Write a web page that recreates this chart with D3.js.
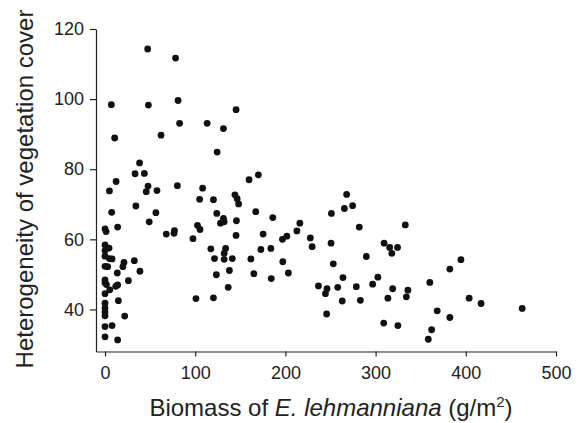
<!DOCTYPE html>
<html>
<head>
<meta charset="utf-8">
<script src="https://cdn.jsdelivr.net/npm/d3@7"></script>
<style>
  body { margin: 0; background: #fff; }
  svg { display: block; }
</style>
</head>
<body>
<div id="chart"></div>
<script>
// Biomass of E. lehmanniana (g/m2) for each plot
const biomass = [
  47.3, 78.2, 7, 48.1, 81, 145.3, 82.7, 113.2, 131.3, 62.1,
  10.7, 124.3, 38.3, 33.3, 43.6, 170, 12.3, 159.7, 80.2, 47.7,
  108.2, 4.9, 45.7, 57.6, 144, 267.9, 146.5, 104.9, 120.2, 148.1,
  34.2, 274.5, 265.4, 7.4, 167.1, 56.4, 123.9, 251, 186, 131.3,
  145.7, 49, 128, 132.1, 216, 332.9, 102.5, 281.9, 14, 0,
  1.2, 105.3, 212.7, 77, 76.5, 67.9, 175.3, 145.3, 201.6, 196.7,
  97.5, 227.6, 250.6, 309.4, 229.6, 315.6, 324.3, 0, 4.5, 117.3,
  133.7, 172.8, 183.9, 0, 132.1, 318, 0, 289.7, 4.9, 7.8,
  121.4, 132.1, 141.1, 161.7, 32.5, 21, 197.1, 19.8, 0, 2.9,
  253.1, 137.9, 38.7, 13.6, 382.3, 394.6, 203.3, 123.4, 165, 263.8,
  302.5, 184.3, 25.9, 0, 0, 360.1, 296.7, 1.6, 14, 11.9,
  236.6, 136.6, 278.6, 258, 5.3, 246.1, 318.9, 335.8, 244.4, 0,
  100.8, 120.2, 313.6, 334.1, 403.7, 416.9, 14.8, 263, 283.1, 0,
  462.5, 0, 368.3, 0, 0, 21.8, 245.7, 382.3, 309, 324.7,
  7.8, 0, 362.1, 0, 358.4, 14
];

// Heterogeneity of vegetation cover, same order as biomass
const heterogeneity = [
  114.3, 111.7, 98.4, 98.3, 99.6, 97.0, 93.1, 93.1, 91.6, 89.7,
  88.9, 84.9, 81.8, 78.7, 78.8, 78.4, 76.5, 77.0, 75.3, 75.2,
  74.6, 73.8, 73.6, 73.9, 72.7, 72.8, 71.6, 71.4, 71.3, 70.1,
  69.5, 69.6, 68.8, 67.7, 67.9, 67.6, 67.4, 67.4, 66.2, 66.0,
  65.3, 65.0, 64.6, 65.0, 64.6, 64.1, 64.0, 63.5, 63.5, 63.0,
  62.2, 62.8, 62.4, 62.5, 61.7, 61.5, 61.5, 61.1, 60.9, 60.0,
  60.2, 60.4, 58.9, 58.9, 57.9, 57.7, 57.7, 58.4, 57.5, 57.3,
  57.4, 57.1, 57.4, 56.8, 56.0, 56.0, 55.2, 55.1, 54.5, 54.4,
  54.5, 54.3, 54.5, 54.4, 53.9, 53.4, 53.6, 52.2, 52.3, 52.2,
  53.0, 51.1, 50.9, 50.4, 51.5, 54.2, 50.4, 49.9, 50.2, 49.1,
  49.2, 48.8, 48.2, 48.4, 47.6, 47.7, 47.2, 47.1, 47.0, 46.6,
  46.7, 46.3, 46.5, 46.3, 45.6, 45.9, 45.9, 45.5, 44.5, 44.5,
  43.1, 43.3, 43.2, 43.6, 43.2, 41.7, 42.5, 42.4, 42.6, 41.8,
  40.3, 40.4, 39.6, 39.3, 38.2, 38.1, 38.7, 37.7, 36.1, 35.4,
  35.4, 35.1, 34.2, 32.2, 31.5, 31.3
];

const xTicks = [0, 100, 200, 300, 400, 500];
const yTicks = [40, 60, 80, 100, 120];

const width = 581, height = 423;
const font = "'Liberation Sans', Arial, Helvetica, sans-serif";

const svg = d3.select("#chart").append("svg")
  .attr("width", width)
  .attr("height", height);

// axes meet slightly left of x = 0 and below y = 30
const xScale = d3.scaleLinear().domain([-10, 500]).range([96, 556]);
const yScale = d3.scaleLinear().domain([28, 120]).range([351.5, 29]);

const points = d3.zip(biomass, heterogeneity);

// x axis
const xAxis = svg.append("g")
  .attr("transform", `translate(0,${yScale(28)})`)
  .call(d3.axisBottom(xScale).tickValues(xTicks).tickSize(5).tickSizeOuter(0).tickPadding(10));
xAxis.selectAll("text")
  .style("font-family", font)
  .style("font-size", "18px")
  .style("fill", "#222");

// y axis
const yAxis = svg.append("g")
  .attr("transform", `translate(${xScale(-10)},0)`)
  .call(d3.axisLeft(yScale).tickValues(yTicks).tickSize(6).tickSizeOuter(0).tickPadding(6));
yAxis.selectAll("text")
  .style("font-family", font)
  .style("font-size", "18px")
  .style("fill", "#222");

svg.selectAll(".domain, .tick line")
  .attr("stroke", "#222")
  .attr("stroke-width", 1.2);

// dots
svg.selectAll(".dot")
  .data(points)
  .enter().append("circle")
  .attr("class", "dot")
  .attr("cx", d => xScale(d[0]))
  .attr("cy", d => yScale(d[1]))
  .attr("r", 3.4)
  .attr("fill", "#111");

// x axis title
const xTitle = svg.append("text")
  .attr("x", 331)
  .attr("y", 416)
  .attr("text-anchor", "middle")
  .style("font-family", font)
  .style("font-size", "24px")
  .style("fill", "#222");
xTitle.append("tspan").text("Biomass of ");
xTitle.append("tspan").style("font-style", "italic").text("E. lehmanniana");
xTitle.append("tspan").text(" (g/m");
xTitle.append("tspan").attr("dy", -9).style("font-size", "15px").text("2");
xTitle.append("tspan").attr("dy", 9).text(")");

// y axis title
svg.append("text")
  .attr("transform", "translate(33,189) rotate(-90)")
  .attr("text-anchor", "middle")
  .style("font-family", font)
  .style("font-size", "24px")
  .style("fill", "#222")
  .text("Heterogeneity of vegetation cover");
</script>
</body>
</html>
